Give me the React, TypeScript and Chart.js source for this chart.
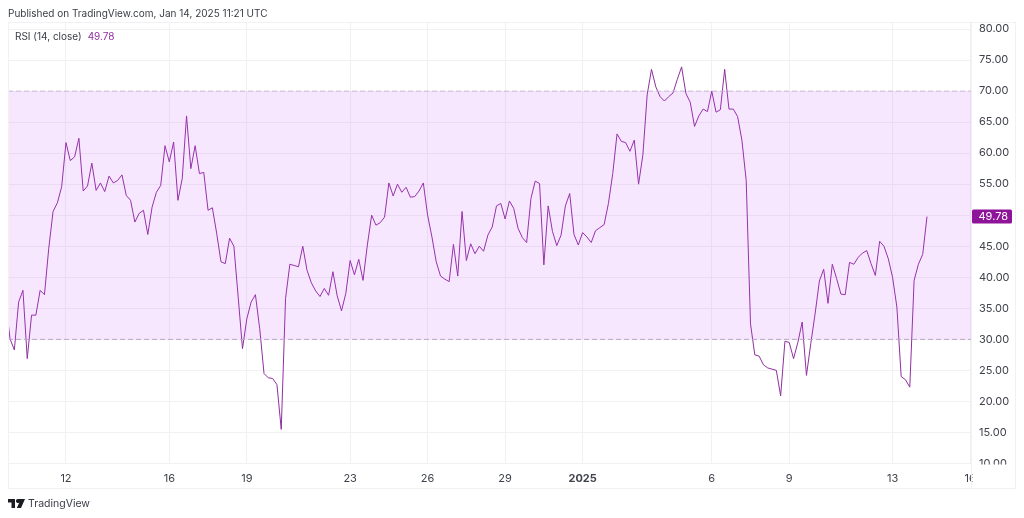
import React, { useEffect, useRef } from "react";
import { Chart, registerables } from "chart.js";

Chart.register(...registerables);

// One value per 4-hour bar. Bar 0 is Dec 12 00:00; the series opens 14 bars before it.
const firstBar = -14;
const rsiValues = [
  36, 30.1, 28.3, 36.0, 37.9, 26.9, 33.9, 33.9, 37.9, 37.2, 44.7, 50.6, 52.0, 54.6,
  61.7, 58.8, 59.4, 62.4, 53.9, 54.7, 58.4, 54.0, 55.2, 53.8, 56.3, 55.2, 55.6, 56.5,
  53.2, 52.4, 48.9, 50.3, 50.8, 46.9, 51.3, 53.7, 54.8, 61.2, 58.6, 61.8, 52.4, 55.9,
  66.0, 57.5, 61.2, 56.7, 56.9, 50.8, 51.2, 47.1, 42.5, 42.2, 46.3, 45.0, 36.8, 28.5,
  33.3, 36.0, 37.2, 31.7, 24.5, 23.8, 23.7, 22.7, 15.5, 36.6, 42.1, 41.9, 41.7, 45.0,
  41.1, 39.1, 37.8, 36.9, 38.2, 37.1, 40.9, 37.0, 34.6, 37.4, 42.7, 40.4, 42.9, 39.5,
  45.2, 50.0, 48.4, 48.8, 49.7, 55.2, 53.1, 55.0, 53.7, 54.5, 52.9, 53.0, 53.9, 55.2,
  50.0, 46.5, 42.5, 40.2, 39.7, 39.3, 45.3, 40.2, 50.6, 42.7, 45.4, 43.8, 45.0, 44.2,
  46.8, 48.1, 51.5, 51.9, 49.4, 52.3, 51.1, 47.9, 46.4, 45.6, 52.7, 55.5, 55.1, 42.0,
  51.5, 47.4, 45.1, 46.8, 51.5, 53.5, 46.9, 45.2, 47.2, 46.5, 45.6, 47.5, 48.0, 48.5,
  51.9, 56.7, 63.1, 61.9, 61.7, 60.3, 62.1, 55.0, 59.7, 69.4, 73.5, 70.7, 69.1, 68.4,
  69.1, 69.7, 71.9, 73.9, 69.6, 68.2, 64.3, 66.0, 67.1, 66.7, 70.0, 66.6, 67.0, 73.5,
  67.1, 67.1, 65.9, 62.1, 55.6, 32.5, 27.5, 27.3, 25.9, 25.4, 25.2, 25.0, 20.9, 29.7,
  29.5, 26.9, 29.5, 32.8, 24.2, 29.3, 34.1, 39.4, 41.3, 35.8, 42.1, 39.8, 37.3, 37.2,
  42.4, 42.1, 43.2, 43.9, 44.3, 42.2, 40.3, 45.8, 45.0, 43.0, 40.0, 35.2, 24.0, 23.5,
  22.3, 39.5, 42.1, 43.7, 49.78,
];
const dateTickBars = [0, 24, 42, 66, 84, 102, 120, 150, 168, 192, 210];
const dateTickLabels = ["12", "16", "19", "23", "26", "29", "2025", "6", "9", "13", "16"];
const upperBand = 70;
const lowerBand = 30;
const indicatorName = "RSI (14, close)";
const lastValueText = "49.78";
const publishedText = "Published on TradingView.com, Jan 14, 2025 11:21 UTC";
const brandText = "TradingView";

const FONT = "Inter, 'Liberation Sans', sans-serif";
const LINE = "#8f2f9f";
const XMIN = -13.47;
const XMAX = 210.45;

const framePlugin = {
  id: "frame",
  afterDraw(chart: any) {
    const { ctx, width, height, chartArea, scales } = chart;
    const right = width - 8.5;
    const bottom = height - 29.5;
    ctx.save();
    // time labels are cut at the price axis
    ctx.fillStyle = "#fff";
    ctx.fillRect(chartArea.right + 0.5, chartArea.bottom + 1, right - chartArea.right - 1, bottom - chartArea.bottom - 2);
    ctx.strokeStyle = "#f1f1f3";
    ctx.lineWidth = 1;
    ctx.strokeRect(8.5, 22.5, right - 8.5, bottom - 22.5);
    ctx.beginPath();
    ctx.moveTo(Math.round(chartArea.right) - 0.5, 22.5);
    ctx.lineTo(Math.round(chartArea.right) - 0.5, bottom);
    ctx.stroke();
    // last value tag
    const y = scales.y.getPixelForValue(rsiValues[rsiValues.length - 1]);
    ctx.fillStyle = "#8e1599";
    ctx.beginPath();
    ctx.roundRect(chartArea.right, y - 7, 40, 14, 1.5);
    ctx.fill();
    ctx.fillStyle = "#fff";
    ctx.font = "11px " + FONT;
    ctx.textBaseline = "middle";
    ctx.textAlign = "left";
    ctx.fillText(lastValueText, chartArea.right + 6.5, y + 0.5);
    ctx.restore();
  },
};

export default function App() {
  const ref = useRef<HTMLCanvasElement>(null);
  useEffect(() => {
    const chart = new Chart(ref.current!, {
      type: "line",
      plugins: [framePlugin],
      data: {
        datasets: [
          {
            data: [{ x: XMIN, y: upperBand }, { x: XMAX, y: upperBand }],
            borderColor: "#cdb9d6",
            borderWidth: 1,
            borderDash: [5, 3],
            pointRadius: 0,
          },
          {
            data: [{ x: XMIN, y: lowerBand }, { x: XMAX, y: lowerBand }],
            borderColor: "#b9a4c4",
            borderWidth: 1,
            borderDash: [5, 3],
            pointRadius: 0,
            fill: "-1",
            backgroundColor: "rgba(190,70,245,0.13)",
          },
          {
            data: rsiValues.map((y, i) => ({ x: firstBar + i, y })),
            borderColor: LINE,
            borderWidth: 1,
            pointRadius: 0,
            tension: 0,
          },
        ],
      },
      options: {
        animation: false,
        responsive: false,
        parsing: false,
        normalized: true,
        layout: { padding: { left: 8, top: 22, right: 8, bottom: 29 } },
        plugins: { legend: { display: false }, tooltip: { enabled: false }, title: { display: false } },
        scales: {
          x: {
            type: "linear",
            min: XMIN,
            max: XMAX,
            afterBuildTicks(axis: any) {
              axis.ticks = dateTickBars.map((value) => ({ value }));
            },
            afterFit(axis: any) {
              axis.height = 25.5;
            },
            grid: { color: "#f1f1f3", drawTicks: false },
            border: { display: false },
            ticks: {
              autoSkip: false,
              maxRotation: 0,
              padding: 9,
              color: "#3f424a",
              font: (c: any) => ({
                family: FONT,
                size: 11,
                weight: dateTickLabels[dateTickBars.indexOf(c.tick?.value)] === "2025" ? "bold" : "normal",
              }),
              callback: (v: any) => dateTickLabels[dateTickBars.indexOf(v)],
            },
          },
          y: {
            position: "right",
            min: 10,
            max: 81.13,
            afterFit(axis: any) {
              axis.width = 44;
            },
            grid: { color: "#f1f1f3", drawTicks: false },
            border: { display: false },
            ticks: {
              stepSize: 5,
              includeBounds: false,
              padding: 7,
              color: "#3f424a",
              font: { family: FONT, size: 11 },
              callback: (v: any) => Number(v).toFixed(2),
            },
          },
        },
      },
    } as any);
    return () => chart.destroy();
  }, []);

  const text: React.CSSProperties = {
    position: "absolute",
    fontFamily: FONT,
    whiteSpace: "nowrap",
    lineHeight: "14px",
    color: "#3a3d45",
  };
  return (
    <div style={{ position: "absolute", left: 0, top: 0, width: 1024, height: 518, background: "#fff", overflow: "hidden" }}>
      <canvas ref={ref} width={1024} height={518} style={{ position: "absolute", left: 0, top: 0, display: "block" }} />
      <div style={{ ...text, left: 8, top: 6, fontSize: 10 }}>{publishedText}</div>
      <div style={{ ...text, left: 15, top: 29, fontSize: 10 }}>
        {indicatorName}
        <span style={{ color: LINE, marginLeft: 6 }}>{lastValueText}</span>
      </div>
      <svg style={{ position: "absolute", left: 8, top: 499 }} width="17" height="10" viewBox="0 0 17 10">
        <path d="M0 0h7v9H3.5V3.5H0zM10 0h7l-4 9H8.8l2.5-5.5a2 2 0 1 1-1.3-3.5z" fill="#1a1c22" />
      </svg>
      <div style={{ ...text, left: 28, top: 497, fontSize: 10.5, color: "#3a3d45" }}>{brandText}</div>
    </div>
  );
}
